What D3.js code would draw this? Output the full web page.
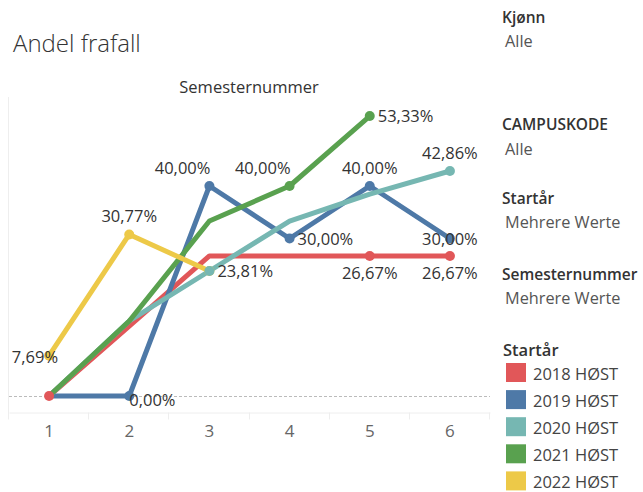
<!DOCTYPE html>
<html><head><meta charset="utf-8">
<script src="https://cdn.jsdelivr.net/npm/d3@7"></script>
<style>body{margin:0;background:#fff}svg{display:block}text{font-family:"Open Sans","Noto Sans",sans-serif}</style>
</head><body>
<script>
const semesters = [1, 2, 3, 4, 5, 6];
const seriesNames = ["2018 HØST", "2019 HØST", "2020 HØST", "2021 HØST", "2022 HØST"];
const seriesColors = ["#e15759", "#4e79a7", "#76b7b2", "#59a14f", "#edc948"];
const v2018 = [0, 13.33, 26.67, 26.67, 26.67, 26.67];
const v2019 = [0, 0, 40, 30, 40, 30];
const v2020 = [0, 14.29, 23.81, 33.33, 38.46, 42.86];
const v2021 = [0, 14.29, 33.33, 40, 53.33, null];
const v2022 = [7.69, 30.77, 23.81, null, null, null];
const allValues = [v2018, v2019, v2020, v2021, v2022];
// labelled points: [seriesIndex, semesterIndex, placement]
const labelPoints = [
  [4, 0, "left"], [1, 1, "belowRight"], [4, 1, "above"], [1, 2, "aboveLeft"],
  [4, 2, "right"], [3, 3, "aboveLeft"], [1, 3, "right"], [3, 4, "right"],
  [1, 4, "above"], [0, 4, "below"], [2, 5, "above"], [1, 5, "center"],
  [0, 5, "below"]
];
const extraDots = [[0, 0]];
const filterHeads = ["Kjønn", "CAMPUSKODE", "Startår", "Semesternummer"];
const filterVals = ["Alle", "Alle", "Mehrere Werte", "Mehrere Werte"];
const filterHeadY = [23, 130, 204, 280];
const filterValY = [47, 155, 228, 304];

const W = 643, H = 492;
const svg = d3.select("body").append("svg").attr("width", W).attr("height", H);
const x = d3.scaleBand().domain(semesters).range([9, 490]);
const cx = d => x(d) + x.bandwidth() / 2;
const y = d3.scaleLinear().domain([0, 60]).range([396, 81]);
const fmt = v => d3.format(".2f")(v).replace(".", ",") + "%";

svg.append("text").attr("x", 13).attr("y", 52).attr("font-size", 24).attr("fill", "#333").attr("font-weight", 300).text("Andel frafall");
svg.append("text").attr("x", 249).attr("y", 93).attr("text-anchor", "middle").attr("font-size", 16.5).attr("fill", "#333").text("Semesternummer");

// left border
svg.append("line").attr("x1", 8.5).attr("x2", 8.5).attr("y1", 97).attr("y2", 419).attr("stroke", "#eee");
// zero line
svg.append("line").attr("x1", 9).attr("x2", 490).attr("y1", y(0) + 0.5).attr("y2", y(0) + 0.5)
  .attr("stroke", "#bbb").attr("stroke-dasharray", "3,2").attr("stroke-width", 1);
// x axis
const ax = svg.append("g").attr("transform", "translate(0,412.5)")
  .call(d3.axisBottom(x).tickSize(0).tickPadding(12));
ax.select(".domain").attr("stroke", "#eee");
ax.selectAll("text").attr("font-size", 17).attr("fill", "#666").attr("font-family", "Open Sans, sans-serif");
ax.selectAll(".sep").data([...semesters.map(s => x(s)), 490]).enter().append("line")
  .attr("x1", d => Math.round(d) - 0.5).attr("x2", d => Math.round(d) - 0.5).attr("y1", 0).attr("y2", 7).attr("stroke", "#eee");

const line = d3.line().defined(d => d.v !== null).x(d => cx(d.s)).y(d => y(d.v));
allValues.forEach((vals, i) => {
  const pts = semesters.map((s, j) => ({ s, v: vals[j] }));
  svg.append("path").datum(pts).attr("d", line).attr("fill", "none")
    .attr("stroke", seriesColors[i]).attr("stroke-width", 5).attr("stroke-linejoin", "round");
});
const dots = labelPoints.map(p => [p[0], p[1]]).concat(extraDots);
svg.selectAll(".dot").data(dots).enter().append("circle")
  .attr("cx", d => cx(semesters[d[1]])).attr("cy", d => y(allValues[d[0]][d[1]]))
  .attr("r", 5).attr("fill", d => seriesColors[d[0]]);
// teal overlays the yellow end marker at 3
svg.append("circle").attr("cx", cx(3)).attr("cy", y(v2020[2])).attr("r", 5).attr("fill", seriesColors[2]);

labelPoints.forEach(([si, j, pos]) => {
  const px = cx(semesters[j]), py = y(allValues[si][j]);
  let tx = px, ty = py + 6, anchor = "middle";
  if (pos === "above") { ty = py - 12; }
  else if (pos === "aboveLeft") { ty = py - 12; tx = px + 1; anchor = "end"; }
  else if (pos === "below") { ty = py + 23; }
  else if (pos === "right") { tx = px + 8; anchor = "start"; }
  else if (pos === "belowRight") { tx = px; anchor = "start"; ty = py + 10; }
  else if (pos === "left") { tx = px + 9; anchor = "end"; ty = py + 7; }
  const t = svg.append("text").attr("x", tx).attr("y", ty).attr("text-anchor", anchor)
    .attr("font-size", 16.5).attr("fill", "#333").text(fmt(allValues[si][j]));
  const bb = t.node().getBBox();
  if (bb.x + bb.width > 490) t.attr("x", tx - (bb.x + bb.width - 490));
});

// filters
filterHeads.forEach((h, i) => {
  svg.append("text").attr("x", 502).attr("y", filterHeadY[i]).attr("font-size", 15.5).attr("fill", "#333").attr("font-weight", 600).text(h);
  svg.append("text").attr("x", 505).attr("y", filterValY[i]).attr("font-size", 16.3).attr("fill", "#555").text(filterVals[i]);
});
// legend
svg.append("text").attr("x", 503).attr("y", 356).attr("font-size", 16.5).attr("fill", "#333").attr("font-weight", 600).text("Startår");
const lg = svg.selectAll(".lg").data(seriesNames).enter().append("g")
  .attr("transform", (d, i) => `translate(506,${363 + i * 27.1})`);
lg.append("rect").attr("width", 20).attr("height", 19).attr("fill", (d, i) => seriesColors[i]);
lg.append("text").attr("x", 27).attr("y", 17).attr("font-size", 16.5).attr("fill", "#444").text(d => d);
</script>
</body></html>
